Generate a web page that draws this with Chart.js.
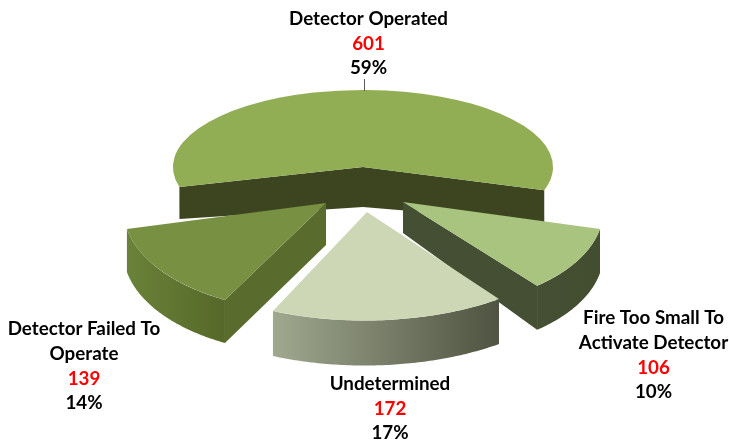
<!DOCTYPE html>
<html>
<head>
<meta charset="utf-8">
<title>Detector performance</title>
<style>
	html, body { margin: 0; padding: 0; background: #fff; }
	#wrap { width: 729px; height: 442px; }
</style>
<script src="https://cdn.jsdelivr.net/npm/chart.js@4/dist/chart.umd.js"></script>
</head>
<body>
<div id="wrap"><canvas id="chart" width="729" height="442"></canvas></div>
<script>
const categories = ['Detector Operated', 'Fire Too Small To Activate Detector', 'Undetermined', 'Detector Failed To Operate'];
const counts = [601, 106, 172, 139];
const percents = ['59%', '10%', '17%', '14%'];
const labelLines = [['Detector Operated'], ['Fire Too Small To', 'Activate Detector'], ['Undetermined'], ['Detector Failed To', 'Operate']];

const topColors = ['#92ae55', '#a9c47f', '#cdd7b6', '#779041'];
const faceColors = ['#3c4520', '#454f33', '#4f5341', '#5a6b2e'];
const rimColors = [null, ['#454f33', '#434d30'], ['#a0a88f', '#4f5341'], ['#6a8239', '#566829']];

// the original is a perspective view, each slice gets its own projection
const projections = [
	[1.011, 0, 0, 0.41, -1.5, -54],
	[1.058, -0.028, 0.13, 0.564, 38.5, -19],
	[1.193, -0.017, 0.022, 0.577, 2.5, -9],
	[1.076, 0.012, -0.076, 0.579, -38.5, -18],
];
const apexDepths = [40, 31, 45, 42];
const rimDepths = [32, 44, 45, 43];
const drawOrder = [0, 1, 3, 2];

const labelAnchors = [[368.5, 19], [653.5, 318], [390, 384], [84, 329]];
const lineStep = 25;
const percentStep = 23.5;

const toScreen = (arc, view, x, y) => ({
	x: arc.x + view[4] + view[0] * x + view[2] * y,
	y: arc.y + view[5] + view[1] * x + view[3] * y,
});

// a cut face shows only when the rest of the slice lies above its top edge
const faceShows = (apex, end, middle) => {
	const edgeY = apex.y + (end.y - apex.y) * (middle.x - apex.x) / (end.x - apex.x);

	return middle.y < edgeY;
};

const drawWalls = (ctx, arc, index) => {
	const view = projections[index];
	const apexDepth = apexDepths[index];
	const rimDepth = rimDepths[index];
	const { startAngle, endAngle, outerRadius } = arc;
	const rim = [];

	for (let step = 0; step <= 80; step++) {
		const angle = startAngle + (endAngle - startAngle) * step / 80;
		rim.push(toScreen(arc, view, Math.cos(angle) * outerRadius, Math.sin(angle) * outerRadius));
	}

	if (rimColors[index]) {
		const minX = Math.min(...rim.map((p) => p.x));
		const maxX = Math.max(...rim.map((p) => p.x));
		const gradient = ctx.createLinearGradient(minX, 0, maxX, 0);
		gradient.addColorStop(0, rimColors[index][0]);
		gradient.addColorStop(1, rimColors[index][1]);

		ctx.beginPath();
		rim.forEach((p, i) => (i ? ctx.lineTo(p.x, p.y) : ctx.moveTo(p.x, p.y)));
		[...rim].reverse().forEach((p) => ctx.lineTo(p.x, p.y + rimDepth));
		ctx.closePath();
		ctx.fillStyle = gradient;
		ctx.fill();
	}

	const apex = toScreen(arc, view, 0, 0);
	const middle = rim[40];

	[rim[0], rim[rim.length - 1]].forEach((end) => {
		if (!faceShows(apex, end, middle)) {
			return;
		}

		ctx.beginPath();
		ctx.moveTo(apex.x, apex.y);
		ctx.lineTo(end.x, end.y);
		ctx.lineTo(end.x, end.y + rimDepth);
		ctx.lineTo(apex.x, apex.y + apexDepth);
		ctx.closePath();
		ctx.fillStyle = faceColors[index];
		ctx.fill();
	});
};

const slices3d = {
	id: 'slices3d',
	beforeDatasetDraw(chart, args) {
		const { ctx } = chart;
		const arcs = args.meta.data;

		drawOrder.forEach((index) => {
			const arc = arcs[index];
			const view = projections[index];

			drawWalls(ctx, arc, index);

			ctx.save();
			ctx.translate(arc.x + view[4], arc.y + view[5]);
			ctx.transform(view[0], view[1], view[2], view[3], 0, 0);
			ctx.translate(-arc.x, -arc.y);
			arc.draw(ctx);
			ctx.restore();
		});

		return false;
	},
};

const sliceLabels = {
	id: 'sliceLabels',
	afterDraw(chart) {
		const { ctx } = chart;

		ctx.save();
		ctx.strokeStyle = '#5a5a5a';
		ctx.lineWidth = 1;
		ctx.beginPath();
		ctx.moveTo(364.5, 79);
		ctx.lineTo(364.5, 91);
		ctx.stroke();

		ctx.font = 'bold 18.8px Lato';
		ctx.textAlign = 'center';
		ctx.textBaseline = 'middle';

		categories.forEach((category, index) => {
			const [x, top] = labelAnchors[index];
			let y = top;

			labelLines[index].forEach((line) => {
				ctx.fillStyle = '#000';
				ctx.fillText(line, x, y);
				y += lineStep;
			});
			ctx.fillStyle = '#ff0000';
			ctx.fillText(String(counts[index]), x, y);
			y += percentStep;
			ctx.fillStyle = '#000';
			ctx.fillText(percents[index], x, y);
		});
		ctx.restore();
	},
};

new Chart(document.getElementById('chart'), {
	type: 'pie',
	data: {
		labels: categories,
		datasets: [{
			data: counts,
			backgroundColor: topColors,
			borderWidth: 0,
		}],
	},
	options: {
		responsive: false,
		animation: false,
		rotation: 255,
		radius: 188,
		events: [],
		plugins: {
			legend: { display: false },
			tooltip: { enabled: false },
		},
	},
	plugins: [slices3d, sliceLabels],
});
</script>
</body>
</html>
